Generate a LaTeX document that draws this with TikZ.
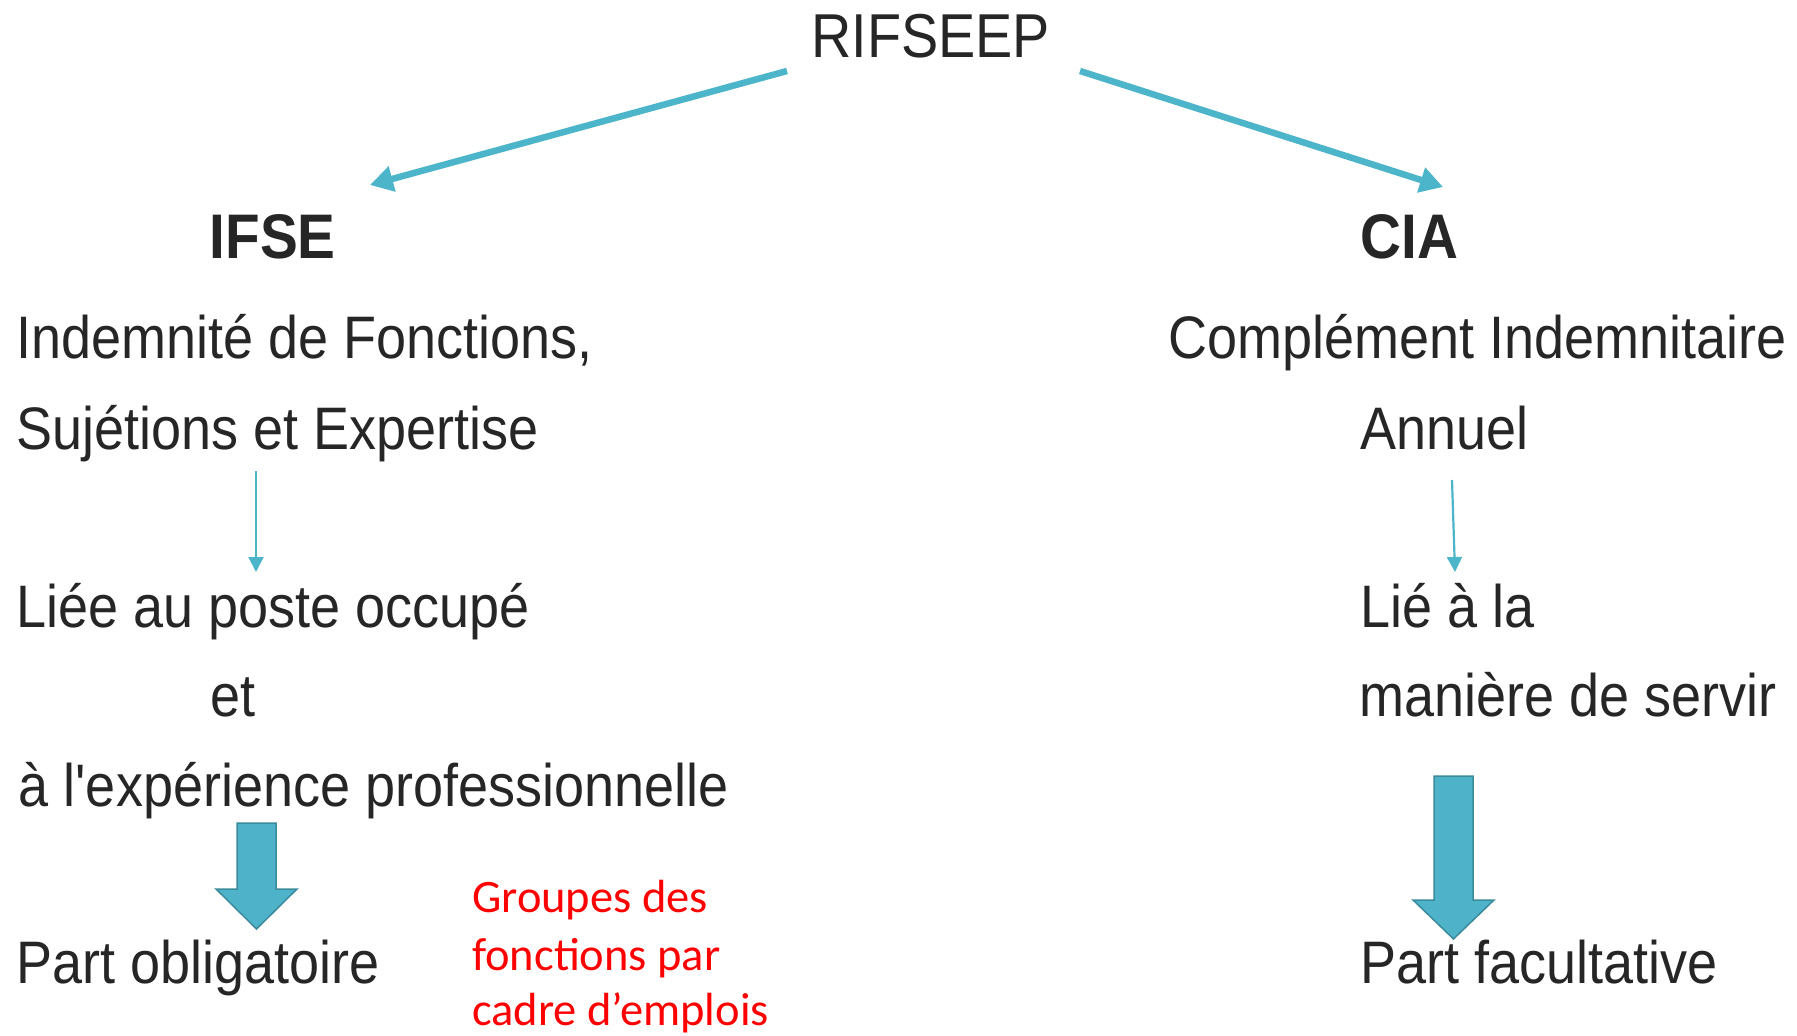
\documentclass[tikz,border=0pt]{standalone}
\usepackage{fontspec}
\setmainfont{Liberation Sans}[FakeStretch=0.9, Ligatures=TeXOff]
\newfontfamily\redfont{Carlito}
\usetikzlibrary{arrows.meta,calc}
\definecolor{txt}{HTML}{262626}
\definecolor{teal}{HTML}{4DB5CA}
\definecolor{tealfill}{HTML}{4EB3C9}
\definecolor{tealdark}{HTML}{3B8B9B}
\begin{document}
\begin{tikzpicture}[x=1pt,y=-1pt,
  lbl/.style={inner sep=0pt, anchor=base west, text=txt, font=\fontsize{60}{72}\selectfont},
  title/.style={inner sep=0pt, anchor=base west, text=txt, font=\fontsize{62}{74}\selectfont},
  head/.style={inner sep=0pt, anchor=base west, text=txt, font=\fontsize{63}{75}\selectfont\bfseries},
  note/.style={inner sep=0pt, anchor=base west, text=red, font=\redfont\fontsize{46.5}{56}\selectfont},
  bigarrow/.style={draw=teal, line width=6.5pt, -{Triangle[length=23pt,width=25pt]}},
  smallarrow/.style={draw=teal, line width=2.2pt, -{Triangle[length=15pt,width=15pt]}},
  blockarrow/.style={fill=tealfill, draw=tealdark, line width=1.5pt, line join=miter}]
\useasboundingbox (0,0) rectangle (1797,1036);
% top
\node[title] (rif) at (811,57) {RIFSEEP};
\node[head] (ifse) at (209.5,258) {IFSE};
\node[head] (cia) at (1360.5,258) {CIA};
% left column
\node[lbl] (l1) at (16.5,358) {Indemnité de Fonctions,};
\node[lbl] (l2) at (16.5,449) {Sujétions et Expertise};
\node[lbl] (l3) at (16.5,627) {Liée au poste occupé};
\node[lbl] (l4) at (210,716) {et};
\node[lbl] (l5) at (18.5,806) {à l'expérience professionnelle};
\node[lbl] (l6) at (16.5,983) {Part obligatoire};
% red note
\node[note] (n1) at (472,912) {Groupes des};
\node[note] (n2) at (472,970) {fonctions par};
\node[note] (n3) at (472,1025) {cadre d’emplois};
% right column
\node[lbl] (r1) at (1168.5,358) {Complément Indemnitaire};
\node[lbl] (r2) at (1360,449) {Annuel};
\node[lbl] (r3) at (1360.5,627) {Lié à la};
\node[lbl] (r4) at (1359,716) {manière de servir};
\node[lbl] (r5) at (1360.5,983) {Part facultative};
% connectors
\draw[bigarrow] ($(rif.base west)+(-24,14)$) -- ($(ifse.base west)+(160.5,-73)$);
\draw[bigarrow] ($(rif.base west)+(269,14)$) -- ($(cia.base west)+(82.5,-71)$);
\draw[smallarrow] ($(l2.base west)+(239.5,22)$) -- ($(l3.base west)+(239.5,-55)$);
\draw[smallarrow] ($(r2.base west)+(92,31)$) -- ($(r3.base west)+(94.5,-55)$);
% block arrows
\coordinate (bas) at ($(l5.base west)+(238,17)$);
\coordinate (bae) at ($(l6.base west)+(240,-54)$);
\draw[blockarrow] ($(bas)+(-19.5,0)$) -- ($(bas)+(19.5,0)$) -- ($(bae)+(19.5,-40)$) -- ($(bae)+(40.5,-40)$) -- (bae) -- ($(bae)+(-40.5,-40)$) -- ($(bae)+(-19.5,-40)$) -- cycle;
\coordinate (bbs) at ($(r4.base west)+(94.5,60)$);
\coordinate (bbe) at ($(r5.base west)+(93,-44)$);
\draw[blockarrow] ($(bbs)+(-19.5,0)$) -- ($(bbs)+(19.5,0)$) -- ($(bbe)+(19.5,-39)$) -- ($(bbe)+(40.5,-39)$) -- (bbe) -- ($(bbe)+(-40.5,-39)$) -- ($(bbe)+(-19.5,-39)$) -- cycle;
\end{tikzpicture}
\end{document}
